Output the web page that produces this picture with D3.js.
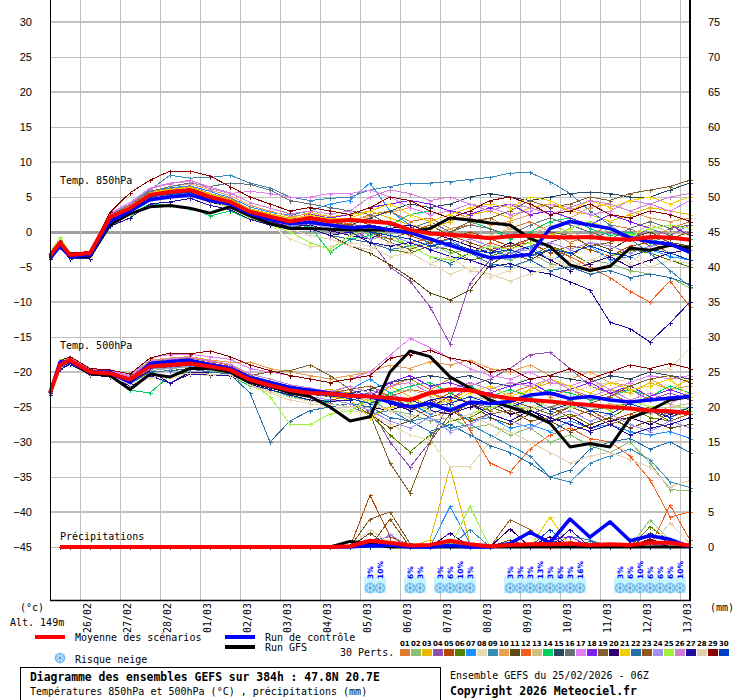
<!DOCTYPE html>
<html lang="fr">
<head>
<meta charset="UTF-8">
<title>Diagramme des ensembles GEFS</title>
<style>
  body { margin: 0; background: #fff; }
  svg text { font-family: "DejaVu Sans Mono", monospace; }
</style>
</head>
<body>
<script src="https://cdn.jsdelivr.net/npm/d3@7"></script>
<script>
// ---- data (hours after 25/02/2026 06Z) ----
const hours = [0,6,12,24,36,48,60,72,84,96,108,120,132,144,156,168,180,192,204,216,228,240,252,264,276,288,300,312,324,336,348,360,372,384];
const precipHours = [6,12,24,36,48,60,72,84,96,108,120,132,144,156,168,180,192,204,216,228,240,252,264,276,288,300,312,324,336,348,360,372,384];
const dayLabels = ["26/02","27/02","28/02","01/03","02/03","03/03","04/03","05/03","06/03","07/03","08/03","09/03","10/03","11/03","12/03","13/03"];
const dayHours = [18,42,66,90,114,138,162,186,210,234,258,282,306,330,354,378];
const tempTicks = [-45,-40,-35,-30,-25,-20,-15,-10,-5,0,5,10,15,20,25,30];
const mmTicks = [0,5,10,15,20,25,30,35,40,45,50,55,60,65,70,75];

const memberColors = ["#e07b30","#88c070","#e8b800","#9050b0","#b04800","#5a8000","#1e90ff","#e8d8b0","#3a8ab8","#e8a050",
  "#604818","#f06020","#d0c080","#00d060","#284860","#687078","#e080f0","#8020f0","#806030","#300070",
  "#f0d000","#2870a8","#905820","#a090f0","#a0f040","#d080d0","#2010a0","#e0d0b0","#880000","#0040c0"];

const t850Mean = [-3.4,-1.5,-3.3,-3.0,2.1,3.4,5.3,5.7,6.0,5.0,4.3,2.9,2.2,1.5,2.0,1.5,1.7,1.5,1.3,0.3,-0.2,-0.4,-0.6,-0.9,-0.6,-0.5,-0.7,-0.8,-0.7,-1.0,-1.1,-0.7,-0.8,-1.1];
const t850Control = [-3.8,-2.0,-3.5,-3.3,1.5,3.0,4.6,5.0,5.3,4.5,4.0,2.6,1.8,1.2,1.4,1.0,0.6,0.8,0.3,-0.1,-1.0,-1.9,-2.8,-3.7,-3.5,-3.2,0.5,1.5,1.0,0.5,-0.8,-1.4,-1.7,-2.9];
const t850Gfs = [-3.5,-2.0,-3.5,-3.5,1.0,2.6,3.6,3.8,3.4,2.7,3.6,2.3,1.2,0.5,0.5,0.4,0.3,0.3,0.3,0.0,0.5,2.0,1.7,1.3,1.0,-0.9,-2.1,-4.7,-5.5,-4.9,-2.3,-2.6,-1.9,-2.3];
const t850Members = [
  [-3.2,-1.3,-3.1,-3.0,2.4,3.8,5.6,6.2,6.5,5.5,4.8,3.2,2.0,1.0,2.5,2.0,1.5,2.5,3.0,1.5,2.0,0.5,1.0,2.0,0.5,1.5,0.0,-1.5,-0.5,1.0,0.5,-1.0,0.5,1.5],
  [-3.6,-1.8,-3.5,-3.2,1.8,3.0,5.0,5.5,5.8,4.6,4.0,2.5,1.8,1.0,1.5,0.5,1.0,-0.5,-1.0,-2.0,-1.5,-3.0,-2.5,-3.5,-4.0,-3.0,-4.5,-5.0,-4.0,-4.5,-5.5,-6.0,-6.5,-8.0],
  [-3.3,-1.4,-3.2,-2.9,2.5,3.6,5.5,6.0,6.4,5.4,4.6,3.3,2.6,2.0,2.8,2.2,2.5,3.0,2.0,1.0,0.5,1.5,2.5,3.0,2.0,3.5,4.0,3.0,2.5,1.5,2.5,3.5,3.0,2.5],
  [-3.4,-1.6,-3.3,-3.1,2.0,3.3,5.2,5.8,6.2,5.2,4.4,3.0,2.4,1.6,1.8,1.0,0.5,-1.0,-5.0,-7.0,-10.7,-16.0,-7.3,-4.0,-3.0,-2.0,-1.5,-0.5,-1.0,0.0,-1.0,0.5,-0.5,1.0],
  [-3.5,-1.7,-3.4,-3.1,2.2,3.5,5.4,5.9,6.1,5.1,4.2,2.8,2.1,1.4,2.2,1.8,2.0,1.0,0.5,-0.5,-1.5,-1.0,0.0,-1.0,-2.0,-1.5,-3.0,-2.0,-2.5,-3.5,-2.0,-1.5,-3.0,-2.5],
  [-3.6,-1.9,-3.6,-3.4,1.5,2.8,4.8,5.2,5.5,4.5,3.8,2.4,1.6,0.8,1.2,0.5,0.0,-1.5,-2.5,-3.0,-2.0,-2.5,-4.0,-3.5,-2.5,-3.5,-2.0,-3.0,-4.5,-3.5,-2.5,-3.0,-4.0,-5.0],
  [-3.2,-1.2,-3.0,-2.8,2.6,3.9,5.8,6.3,6.6,5.8,4.9,3.6,2.8,2.4,3.0,4.0,4.5,7.0,3.0,1.0,-2.0,-1.0,-3.0,-2.5,-3.5,-2.0,-4.0,-3.0,-2.0,-4.0,-3.5,-2.5,-3.5,-4.0],
  [-3.7,-2.0,-3.6,-3.5,1.0,2.5,4.5,5.0,5.2,4.2,3.5,2.0,1.0,-1.0,-2.1,-2.0,-1.5,-2.0,-3.5,-3.0,-4.5,-6.0,-5.0,-6.5,-5.5,-4.0,-3.5,-5.0,-4.0,-3.0,-4.5,-2.0,-3.0,-2.5],
  [-3.3,-1.5,-3.2,-3.0,2.3,4.0,6.0,8.1,7.7,7.8,8.1,7.0,6.3,5.0,4.5,4.8,5.0,6.0,6.5,7.0,7.0,7.2,7.5,7.8,8.4,8.5,7.2,5.5,3.0,1.0,-1.0,-3.0,-5.5,-7.8],
  [-3.2,-1.4,-3.1,-2.9,2.6,3.7,5.7,6.5,6.9,6.0,5.2,3.8,3.0,2.2,2.6,2.0,1.8,2.2,2.8,3.5,2.5,3.0,2.0,1.0,1.5,2.5,3.0,2.0,3.5,4.0,3.0,2.0,1.5,2.0],
  [-3.5,-1.7,-3.5,-3.3,1.6,3.0,4.8,5.4,5.6,4.6,3.9,2.6,1.8,1.0,0.5,-0.5,-2.0,-3.0,-4.7,-6.5,-8.7,-9.7,-8.3,-4.7,-3.0,-4.0,-2.5,-3.5,-1.5,-2.5,-1.0,0.0,-1.5,-2.0],
  [-3.4,-1.6,-3.3,-3.0,2.1,3.4,5.3,5.8,6.0,5.0,4.3,2.9,2.2,1.3,1.6,1.0,1.2,0.5,-0.5,-1.5,-1.0,-2.0,-3.0,-1.5,-2.5,-1.0,-2.0,-3.5,-5.0,-6.5,-8.5,-10.0,-7.0,-10.7],
  [-3.3,-1.5,-3.2,-3.0,2.2,3.5,5.2,5.7,5.9,4.9,4.2,2.7,2.0,1.4,1.8,1.2,1.5,2.0,1.0,0.0,-0.5,0.5,-1.0,-0.5,0.5,-0.5,1.0,0.0,-1.0,0.5,-0.5,1.0,0.0,-0.5],
  [-3.5,-1.8,-3.5,-3.3,1.2,2.6,4.0,3.8,3.5,2.3,3.0,1.8,1.0,0.5,0.8,-2.9,-1.0,-0.5,1.0,2.5,3.0,2.0,1.5,0.5,-1.0,0.0,1.5,2.0,0.5,-0.5,0.0,-1.5,-0.5,-1.0],
  [-3.4,-1.6,-3.4,-3.2,1.9,3.2,5.0,5.5,5.8,4.8,4.0,2.6,1.9,1.2,1.5,1.0,1.0,2.0,3.0,4.0,3.5,4.0,5.0,5.5,5.0,4.5,5.0,5.5,5.7,5.5,5.0,5.0,6.0,7.0],
  [-3.3,-1.5,-3.2,-3.0,2.4,3.9,5.8,6.5,7.0,6.5,7.0,6.8,6.0,4.5,4.0,3.5,3.0,2.5,1.0,0.5,1.5,0.0,1.0,0.5,-0.5,1.0,2.0,1.0,0.0,-1.0,0.5,1.5,0.5,1.0],
  [-3.2,-1.3,-3.1,-2.9,2.7,4.2,6.3,7.0,7.2,6.2,5.5,5.8,5.5,5.0,5.0,5.5,5.5,6.0,5.0,3.5,2.5,3.0,4.0,3.5,2.5,3.0,4.0,3.5,2.5,3.0,4.5,4.0,3.0,4.5],
  [-3.3,-1.5,-3.2,-3.0,2.3,3.6,5.4,5.9,6.2,5.3,4.5,3.1,2.5,1.8,2.5,2.0,2.5,3.5,4.0,4.5,4.0,3.0,2.5,3.5,4.0,2.5,3.0,2.0,1.0,2.5,1.5,0.5,1.0,-0.5],
  [-3.4,-1.6,-3.3,-3.1,2.0,3.3,5.1,5.6,5.9,4.9,4.1,2.8,2.0,1.3,1.6,1.1,0.5,0.0,-1.5,-2.5,-1.5,0.0,1.5,2.0,3.0,4.5,3.5,4.0,5.0,4.5,5.5,6.0,6.5,7.4],
  [-3.6,-1.9,-3.6,-3.4,1.4,2.7,4.6,5.0,5.3,4.3,3.6,2.2,1.5,0.7,1.0,0.2,-0.5,-1.0,0.5,1.0,0.0,-1.0,-2.0,-3.0,-1.5,-2.5,-4.0,-5.5,-4.5,-3.5,-5.0,-4.0,-3.0,-2.5],
  [-3.3,-1.4,-3.2,-3.0,2.3,3.7,5.6,6.1,6.4,5.4,4.6,3.2,2.5,1.9,2.4,1.9,2.0,3.0,4.0,2.5,1.5,2.5,3.5,4.0,3.5,5.0,4.5,3.0,4.5,3.5,4.5,5.0,4.0,5.0],
  [-3.5,-1.7,-3.4,-3.2,1.8,3.1,4.9,5.3,5.6,4.6,3.8,2.4,1.6,0.9,0.5,-0.5,-1.0,-1.5,-2.5,-2.0,-3.5,-4.5,-3.0,-4.5,-5.0,-4.0,-5.5,-5.0,-6.0,-5.5,-6.5,-6.0,-6.5,-7.5],
  [-3.4,-1.6,-3.3,-3.1,2.1,3.4,5.2,5.7,6.0,5.0,4.3,2.9,2.1,1.5,1.9,1.4,1.0,0.0,-1.0,0.0,1.0,-0.5,-1.5,-2.5,-2.0,-1.0,0.0,-0.5,-2.0,-1.5,-0.5,-2.0,-1.0,0.0],
  [-3.5,-1.8,-3.5,-3.3,1.7,3.0,4.9,5.4,5.7,4.7,3.9,2.5,1.7,0.9,1.2,0.5,0.0,-1.0,-0.5,-1.5,-2.5,-2.0,-1.0,-2.0,-3.0,-2.5,-1.5,-2.5,-1.5,-2.0,-3.0,-2.0,-1.5,-2.5],
  [-3.0,-0.7,-3.0,-2.8,2.0,3.2,5.0,5.5,5.8,4.5,3.5,2.0,1.0,0.0,-1.5,-2.5,-0.5,0.5,-0.5,-2.0,-3.5,-4.0,-3.0,-2.0,-2.5,-1.5,-0.5,0.5,1.5,0.5,-0.5,0.5,1.0,0.5],
  [-3.2,-1.3,-3.1,-2.9,2.6,4.0,6.2,6.9,7.4,6.4,5.6,4.2,3.4,2.6,3.0,2.6,3.0,5.0,6.0,5.5,4.5,5.0,4.0,3.0,4.0,3.5,2.5,3.5,4.5,4.0,3.0,4.0,5.0,5.5],
  [-3.8,-2.2,-3.8,-3.8,0.8,2.0,4.0,4.3,4.8,3.8,3.2,1.8,1.0,0.4,0.5,-0.5,0.0,-1.5,-2.0,-1.5,-2.5,-3.5,-4.0,-5.0,-4.5,-5.5,-6.0,-7.1,-8.3,-12.9,-13.8,-15.7,-13.0,-10.0],
  [-3.6,-1.9,-3.5,-3.4,1.3,2.7,4.6,5.1,5.4,4.4,3.7,2.3,1.3,0.4,-0.5,-1.0,-2.0,-2.5,-1.5,-3.0,-4.5,-3.5,-5.5,-6.0,-7.0,-6.0,-5.0,-4.0,-5.5,-4.5,-3.5,-5.0,-4.0,-4.5],
  [-3.2,-1.3,-3.0,-2.8,2.8,5.6,7.4,8.7,8.7,8.0,6.5,5.0,4.0,3.0,3.5,3.0,2.5,3.5,5.0,4.5,3.0,2.0,3.0,4.5,5.0,4.0,2.5,3.0,4.0,2.5,2.0,3.0,2.5,1.5],
  [-3.5,-1.7,-3.4,-3.2,1.9,3.2,5.0,5.4,5.7,4.7,4.0,2.6,1.9,1.2,1.5,1.0,0.5,0.0,-0.5,-1.0,-2.0,-1.5,-2.5,-3.0,-2.5,-3.5,-2.5,-3.0,-2.0,-3.0,-3.5,-2.5,-3.0,-4.0]
];

const t500Mean = [-23,-19,-18.3,-20,-20.2,-21.1,-19.2,-19,-18.8,-19.2,-19.7,-21.1,-21.9,-22.6,-23,-23.1,-23.4,-23.5,-23.7,-24.0,-23.0,-22.5,-22.6,-23.3,-23.8,-24,-24.2,-24.5,-24.7,-25,-25.2,-25.5,-25.6,-25.9];
const t500Control = [-23,-18.6,-18.5,-20,-20,-21.5,-18.8,-18.5,-18.3,-19,-19.5,-20.8,-21.5,-22.2,-22.6,-23,-23.3,-23.5,-24.3,-25,-24.5,-25.5,-24.3,-24.5,-24.2,-23.3,-23,-23.8,-23.5,-24,-24.3,-24,-23.7,-23.5];
const t500Gfs = [-23,-19,-18.5,-20.2,-20.5,-22.5,-20.3,-20.7,-19.5,-19.5,-20,-21.5,-22,-23,-23.5,-25,-27,-26.4,-20,-17,-17.8,-20.7,-22.3,-24,-25,-26,-27.3,-30.7,-30.2,-30.7,-26.6,-25.5,-24,-23.5];
const t500Members = [
  [-22.8,-18.8,-18.0,-19.8,-20.0,-20.8,-18.5,-18.2,-18.0,-18.5,-19.0,-20.5,-21.5,-22.0,-22.5,-23.0,-22.0,-23.0,-22.0,-21.0,-22.5,-21.0,-22.0,-24.0,-23.0,-22.0,-23.5,-22.5,-24.0,-23.0,-24.5,-23.5,-22.0,-23.0],
  [-23.2,-19.2,-18.6,-20.2,-20.4,-21.5,-19.8,-19.5,-19.3,-19.8,-20.2,-21.8,-22.5,-23.5,-24.0,-24.5,-25.0,-24.0,-25.5,-26.0,-27.0,-26.5,-28.0,-27.5,-29.0,-28.0,-30.0,-29.0,-30.5,-31.5,-30.0,-33.0,-36.8,-37.0],
  [-22.9,-18.9,-18.2,-19.9,-20.1,-21.0,-19.0,-18.7,-18.5,-19.0,-19.5,-20.8,-21.5,-22.3,-22.8,-22.5,-23.0,-24.5,-22.0,-23.5,-25.0,-24.0,-22.5,-23.0,-24.5,-22.5,-21.5,-22.0,-21.0,-22.5,-23.0,-21.5,-22.5,-21.0],
  [-23.0,-19.0,-18.4,-20.1,-20.3,-21.2,-19.3,-19.0,-18.9,-19.3,-19.8,-21.2,-22.0,-22.8,-23.5,-24.0,-24.5,-25.0,-30.0,-33.6,-30.0,-24.0,-22.0,-21.0,-19.5,-17.5,-17.2,-19.5,-22.0,-23.0,-22.5,-24.0,-23.0,-24.0],
  [-23.1,-19.1,-18.5,-20.0,-20.2,-21.3,-19.5,-19.2,-19.0,-19.5,-20.0,-21.3,-22.0,-23.0,-23.5,-24.0,-23.5,-23.0,-24.0,-25.5,-24.5,-23.0,-24.5,-25.5,-24.0,-26.0,-25.0,-26.5,-25.5,-27.0,-26.0,-25.0,-26.5,-25.5],
  [-23.2,-19.3,-18.6,-20.3,-20.5,-21.6,-20.0,-19.8,-19.5,-20.0,-20.3,-21.8,-22.5,-23.3,-24.0,-24.5,-25.0,-26.0,-29.0,-31.4,-29.0,-27.0,-26.5,-25.0,-26.0,-25.5,-27.0,-26.0,-27.5,-26.5,-25.0,-26.5,-27.0,-28.0],
  [-22.8,-18.7,-18.0,-19.7,-19.9,-20.7,-18.6,-18.4,-18.2,-18.7,-19.2,-20.5,-21.3,-22.0,-22.5,-23.0,-22.5,-21.0,-23.0,-24.5,-26.0,-25.0,-27.0,-26.5,-28.0,-27.5,-28.5,-27.0,-28.0,-27.5,-28.5,-29.0,-28.5,-29.5],
  [-23.1,-19.2,-18.5,-20.2,-20.4,-21.6,-20.3,-20.9,-20.3,-20.5,-20.5,-22.0,-23.0,-24.0,-24.5,-25.0,-25.5,-26.0,-27.5,-29.0,-29.7,-33.5,-33.5,-30.0,-27.0,-25.0,-24.0,-23.0,-22.0,-21.5,-21.0,-20.0,-19.5,-16.6],
  [-22.9,-18.8,-18.2,-19.9,-20.1,-20.9,-18.8,-18.5,-18.4,-18.9,-19.4,-20.8,-21.8,-22.5,-23.5,-24.5,-25.0,-26.0,-25.5,-27.0,-26.5,-28.0,-27.5,-29.0,-30.5,-32.0,-35.0,-35.7,-33.0,-32.0,-31.0,-32.5,-35.7,-36.5],
  [-22.7,-18.5,-17.9,-19.6,-19.8,-20.6,-18.3,-18.0,-17.8,-18.3,-18.6,-18.6,-19.5,-20.0,-20.5,-21.0,-20.5,-20.0,-19.0,-19.5,-18.5,-19.0,-18.3,-19.5,-20.0,-19.0,-20.5,-21.0,-20.0,-21.5,-22.0,-21.0,-22.5,-22.0],
  [-23.1,-19.1,-18.4,-20.1,-20.3,-21.4,-19.6,-19.3,-19.1,-19.5,-20.0,-21.5,-22.3,-23.0,-23.5,-24.0,-24.5,-26.0,-28.0,-27.0,-25.0,-23.5,-24.5,-26.5,-27.5,-26.0,-27.0,-28.5,-27.5,-26.5,-28.0,-27.0,-28.0,-27.5],
  [-23.0,-19.0,-18.3,-20.0,-20.2,-21.1,-19.2,-19.0,-18.8,-19.2,-19.7,-21.0,-21.8,-22.5,-23.0,-23.5,-23.0,-22.5,-23.5,-22.5,-23.0,-24.0,-28.3,-33.0,-34.3,-31.0,-29.0,-28.0,-29.5,-30.0,-32.0,-35.4,-40.7,-40.0],
  [-22.9,-18.9,-18.2,-19.9,-20.1,-21.0,-19.0,-18.8,-18.6,-19.0,-19.5,-20.9,-21.6,-22.3,-22.8,-23.0,-23.5,-24.0,-23.0,-22.5,-23.5,-24.5,-23.5,-24.0,-25.0,-24.0,-25.0,-24.5,-25.5,-24.5,-25.0,-26.0,-25.0,-24.5],
  [-23.3,-19.5,-18.8,-20.4,-20.6,-22.6,-23.0,-20.5,-20.0,-20.3,-20.5,-22.0,-22.5,-23.5,-24.0,-24.0,-24.5,-25.5,-23.0,-22.0,-21.5,-23.0,-22.0,-23.5,-22.5,-23.5,-22.5,-23.0,-24.0,-23.5,-22.5,-23.5,-22.0,-23.0],
  [-23.0,-19.1,-18.4,-20.1,-20.3,-21.3,-19.4,-19.1,-18.9,-19.4,-19.9,-21.3,-22.0,-22.8,-23.2,-23.5,-23.0,-22.5,-21.5,-21.0,-20.5,-21.0,-20.5,-21.5,-22.0,-21.0,-20.5,-21.0,-21.5,-20.5,-21.0,-20.0,-20.5,-21.0],
  [-22.8,-18.7,-18.1,-19.8,-20.0,-20.9,-18.8,-18.5,-18.3,-18.8,-19.2,-20.5,-21.4,-22.2,-22.7,-23.0,-23.5,-23.0,-24.0,-25.0,-24.0,-25.5,-24.5,-25.0,-24.5,-26.0,-25.0,-24.0,-25.5,-25.0,-24.5,-25.5,-26.0,-25.0],
  [-22.7,-18.5,-17.9,-19.6,-19.8,-20.5,-18.0,-17.5,-17.5,-17.8,-18.2,-19.5,-20.0,-20.5,-21.0,-21.5,-21.0,-20.0,-17.6,-15.2,-16.5,-18.0,-19.5,-20.5,-21.0,-20.0,-21.5,-22.0,-21.0,-22.5,-21.5,-20.5,-21.0,-20.5],
  [-22.9,-18.8,-18.1,-19.8,-20.0,-20.8,-18.7,-18.4,-18.2,-18.7,-19.2,-20.6,-21.4,-22.2,-22.5,-23.0,-22.5,-23.5,-21.5,-20.5,-22.0,-21.5,-22.5,-23.0,-22.0,-21.5,-23.0,-22.5,-21.5,-23.0,-22.0,-23.5,-22.5,-23.5],
  [-23.0,-19.0,-18.3,-20.0,-20.2,-21.2,-19.3,-19.1,-18.9,-19.3,-19.8,-20.5,-20.0,-19.8,-19.0,-20.5,-22.5,-26.0,-33.0,-37.3,-30.0,-26.0,-24.5,-25.5,-24.0,-25.0,-26.0,-25.0,-24.5,-23.5,-22.0,-21.0,-20.5,-21.5],
  [-23.1,-19.2,-18.5,-20.2,-20.4,-21.5,-19.8,-21.6,-20.0,-20.0,-20.3,-21.6,-22.3,-23.0,-23.5,-24.0,-24.5,-25.0,-25.5,-24.5,-25.5,-26.0,-25.0,-24.0,-26.0,-25.5,-27.0,-26.5,-28.0,-27.0,-26.5,-27.5,-26.0,-25.5],
  [-22.9,-18.9,-18.2,-19.9,-20.1,-21.0,-19.1,-18.8,-18.6,-19.1,-19.6,-21.0,-21.8,-22.6,-23.0,-23.5,-24.0,-26.5,-25.0,-24.5,-23.0,-24.5,-23.0,-22.0,-23.5,-22.5,-21.0,-22.0,-23.0,-21.5,-22.5,-22.0,-21.0,-23.5],
  [-23.2,-19.3,-18.7,-20.3,-20.5,-21.7,-20.0,-19.8,-19.6,-20.0,-20.3,-23.0,-30.0,-27.0,-25.5,-25.0,-24.5,-25.0,-26.5,-27.0,-28.5,-27.5,-29.0,-30.5,-31.5,-33.0,-35.0,-34.0,-31.0,-30.0,-29.5,-31.0,-30.0,-31.5],
  [-23.0,-19.0,-18.4,-20.0,-20.2,-21.1,-19.2,-18.9,-18.7,-19.2,-19.7,-21.0,-21.7,-22.5,-23.0,-23.0,-22.5,-22.0,-23.5,-25.0,-26.5,-25.5,-27.0,-26.0,-25.5,-27.0,-26.5,-25.0,-26.0,-27.5,-26.5,-25.5,-27.0,-26.0],
  [-23.1,-19.1,-18.5,-20.1,-20.3,-21.3,-19.6,-19.4,-19.2,-19.6,-20.0,-21.4,-22.2,-23.0,-23.5,-24.0,-24.5,-25.5,-27.0,-28.0,-26.5,-28.5,-27.5,-26.0,-27.0,-28.0,-26.5,-25.5,-27.0,-26.0,-27.5,-28.5,-27.0,-28.0],
  [-22.8,-18.2,-18.1,-19.8,-20.0,-21.0,-19.0,-18.7,-18.6,-19.0,-19.5,-21.5,-23.5,-27.5,-27.5,-26.0,-25.5,-24.0,-23.5,-24.5,-25.5,-27.0,-26.0,-25.0,-24.5,-25.5,-24.0,-25.0,-24.5,-25.5,-24.0,-25.0,-24.5,-25.5],
  [-22.8,-18.6,-18.0,-19.7,-19.9,-20.7,-18.4,-18.1,-17.9,-18.4,-18.9,-20.3,-21.0,-21.8,-22.3,-22.8,-22.0,-23.0,-22.0,-21.5,-23.0,-22.5,-21.5,-22.5,-21.5,-22.0,-21.0,-22.5,-23.5,-22.5,-24.0,-23.0,-24.5,-23.0],
  [-23.3,-19.6,-18.9,-20.4,-20.7,-22.0,-20.5,-21.6,-20.3,-20.4,-20.5,-21.8,-22.5,-23.3,-24.0,-24.2,-24.0,-23.5,-24.5,-25.5,-24.0,-23.5,-24.5,-26.0,-27.0,-25.5,-26.5,-27.5,-28.5,-27.5,-29.0,-28.0,-27.5,-26.5],
  [-23.1,-19.3,-18.6,-20.3,-20.5,-21.8,-20.8,-20.5,-20.2,-20.3,-20.4,-21.9,-22.8,-23.6,-24.2,-24.6,-25.0,-24.5,-25.5,-26.5,-25.5,-27.0,-26.0,-27.5,-28.5,-30.0,-31.5,-33.0,-32.0,-31.5,-32.5,-33.6,-36.4,-35.5],
  [-22.7,-18.4,-17.8,-19.5,-19.7,-20.3,-18.0,-17.3,-17.4,-17.0,-17.8,-19.0,-19.8,-20.5,-21.0,-21.5,-21.0,-20.5,-18.0,-17.5,-16.9,-18.0,-18.5,-20.0,-19.5,-21.0,-20.5,-19.5,-21.0,-20.0,-19.0,-19.5,-18.8,-19.5],
  [-23.0,-19.1,-18.4,-20.0,-20.2,-21.2,-19.3,-19.0,-18.8,-19.3,-19.8,-21.2,-22.0,-22.7,-23.1,-23.4,-23.8,-24.5,-23.5,-24.0,-25.0,-24.5,-23.5,-24.5,-25.0,-24.0,-25.5,-24.5,-25.5,-26.0,-24.5,-25.5,-26.5,-25.0]
];

const precipMean = [0,0,0,0,0,0,0,0,0,0,0,0,0,0,0,0.1,0.9,0.6,0.2,0.3,0.9,0.4,0.1,0.3,0.4,0.4,0.5,0.3,0.4,0.3,0.6,0.6,0.2];
const precipControl = [0,0,0,0,0,0,0,0,0,0,0,0,0,0,0,0,0.2,0.3,0,0,0.2,0,0,0.5,2.1,0.6,4.0,1.4,3.6,0.9,1.6,1.1,0];
const precipGfs = [0,0,0,0,0,0,0,0,0,0,0,0,0,0,0,0.8,0.5,0,0,0,0,0,0,0,0,0,0,0,0,0,0,0,0];
const precipMembers = [
  [0,0,0,0,0,0,0,0,0,0,0,0,0,0,0,0,1.0,0.5,0,0,0,0,0,0,0,0,0.8,0,0,0,1.0,0,0],
  [0,0,0,0,0,0,0,0,0,0,0,0,0,0,0,0,0,0,0,0,0,0,0,0,0.5,0,0,0,0,0,3.9,1.0,0],
  [0,0,0,0,0,0,0,0,0,0,0,0,0,0,0,0,0,0,0,1.0,11.4,0.5,0,0,0,0,0,0,0,0,0,0,0],
  [0,0,0,0,0,0,0,0,0,0,0,0,0,0,0,0,0.8,1.5,0,0,0,0,0,0,0,0,0,0,0,0,0,0,0],
  [0,0,0,0,0,0,0,0,0,0,0,0,0,0,0,0,7.4,1.5,0.3,0,0,0,0,0,0,0,0,0,0,0,0,0,0],
  [0,0,0,0,0,0,0,0,0,0,0,0,0,0,0,0,0,0,0,0,0,0,0,0,0,0,0,0,0,0,2.9,0.8,0],
  [0,0,0,0,0,0,0,0,0,0,0,0,0,0,0,0,0,0,0,0,5.8,0.5,0,0,0,1.0,0,0,0,0,0,0,0],
  [0,0,0,0,0,0,0,0,0,0,0,0,0,0,0,0,2.5,0.5,0,0,0,0,0,0,0,0,0,0,0,0,0,0,0],
  [0,0,0,0,0,0,0,0,0,0,0,0,0,0,0,0,0,0,0,0,0,2.5,0,0,0,0,1.5,1.0,0,0,0,0.8,0],
  [0,0,0,0,0,0,0,0,0,0,0,0,0,0,0,0,0,0.8,0,0,0,0,0,0,0,0,0.5,0,0,0,0,0,0],
  [0,0,0,0,0,0,0,0,0,0,0,0,0,0,0,0,2.0,0,0,0,0,0,0,1.0,0,0,0,0,0,0,0,0,0],
  [0,0,0,0,0,0,0,0,0,0,0,0,0,0,0,0,0,0,0,0,0,0,0,0,0,0,0,0,0,0.5,0,6.0,1.0],
  [0,0,0,0,0,0,0,0,0,0,0,0,0,0,0,0,0,0,0.3,0,0,0,0,0,0,0,0,0,0,0,0,0,0],
  [0,0,0,0,0,0,0,0,0,0,0,0,0,0,0,0,0,0,0,0,0.5,0,0,0,0,0,0,0,0.5,0,0,0,0],
  [0,0,0,0,0,0,0,0,0,0,0,0,0,0,0,0,0,0,0,0,0,0,0,0,0,0,0,0,0,0,2.0,0.6,0],
  [0,0,0,0,0,0,0,0,0,0,0,0,0,0,0,0,1.0,0,0,0,0,0,0,0,0,0,0,0,0,0,0,0,0],
  [0,0,0,0,0,0,0,0,0,0,0,0,0,0,0,0,0,0.6,0,0,0,0.4,0,0,0,0,0,0,0,0,0,0,0],
  [0,0,0,0,0,0,0,0,0,0,0,0,0,0,0,0,0,0,0,0,0,0,0,0,0,1.0,1.5,0,0,0,0,0,0],
  [0,0,0,0,0,0,0,0,0,0,0,0,0,0,0,0,4.0,5.0,0.5,0,0,0,0,0,0,0,0,0,0,0,0,0,0],
  [0,0,0,0,0,0,0,0,0,0,0,0,0,0,0,0,0,0,0,0,2.0,0,0,2.6,0,1.5,0,0,0,0,0,0,0],
  [0,0,0,0,0,0,0,0,0,0,0,0,0,0,0,0,0,0,0,0,0.8,0,0,0,0,4.3,0,0,0,0,0,0,0],
  [0,0,0,0,0,0,0,0,0,0,0,0,0,0,0,0,0,0,0,0,0,0,0,0,0,0,0,0.8,0,0,0.5,0,0],
  [0,0,0,0,0,0,0,0,0,0,0,0,0,0,0,0,0,4.0,0,0,0,0,0,3.9,2.5,0,0,0,0,0,0,0,0],
  [0,0,0,0,0,0,0,0,0,0,0,0,0,0,0,0,0,1.8,0,0,0,0,0,0,0,0,0,0,0,0,0,0.7,0],
  [0,0,0,0,0,0,0,0,0,0,0,0,0,0,0,0,0,0,0,0,0,5.8,0,0,0.5,0,0,0,0,0,0,0,0],
  [0,0,0,0,0,0,0,0,0,0,0,0,0,0,0,0,0.9,0,0,0,0,0,0,0,0,0,0,0,0,0,0,0.5,0],
  [0,0,0,0,0,0,0,0,0,0,0,0,0,0,0,0,0,0,0,0,0,0,0,0,0,0,2.5,0,0,0,1.0,0,0],
  [0,0,0,0,0,0,0,0,0,0,0,0,0,0,0,0,0,0,0,0,0,0,0,0,0,0,0,0,0,0,0,3.5,0.5],
  [0,0,0,0,0,0,0,0,0,0,0,0,0,0,0,0,0,0,0,0,0,0,0,0,0,0,0,0,0,0,1.2,0,0],
  [0,0,0,0,0,0,0,0,0,0,0,0,0,0,0,0,0,0,0,0,0,0,0,0,0,2.5,0,0,0,0.6,0,0,0]
];

const snowHours = [192,198,216,222,234,240,246,252,276,282,288,294,300,306,312,318,342,348,354,360,366,372,378];
const snowPct = [3,10,6,3,3,6,10,3,3,3,3,13,3,6,3,16,3,6,10,6,6,6,10];

// ---- chart ----
const svg = d3.select("body").append("svg").attr("width", 740).attr("height", 700);

const x = d3.scaleLinear().domain([0, 384]).range([50, 690]);
const y = d3.scaleLinear().domain([-45, 30]).range([547, 22]);
const yMm = d3.scaleLinear().domain([0, 75]).range([547, 22]);

// grid
const grid = svg.append("g").attr("shape-rendering", "crispEdges");
grid.selectAll(".hgrid").data(tempTicks).join("line").attr("class", "hgrid")
  .attr("x1", 50).attr("x2", 690)
  .attr("y1", d => y(d)).attr("y2", d => y(d))
  .attr("stroke", d => d === 0 ? "#a0a0a0" : "#c0c0c0")
  .attr("stroke-width", d => d === 0 ? 3 : (d % 10 === 0 ? 2 : 1));
grid.selectAll(".vgrid").data(dayHours).join("line").attr("class", "vgrid")
  .attr("x1", d => Math.round(x(d)) + 0.5).attr("x2", d => Math.round(x(d)) + 0.5)
  .attr("y1", 0).attr("y2", 600)
  .attr("stroke", "#c0c0c0").attr("stroke-width", 1);

// axes
const axL = svg.append("g").attr("transform", "translate(50,0)")
  .call(d3.axisLeft(y).tickValues(tempTicks).tickSize(0).tickPadding(18));
const axR = svg.append("g").attr("transform", "translate(690,0)")
  .call(d3.axisRight(yMm).tickValues(mmTicks).tickSize(0).tickPadding(18));
[axL, axR].forEach(a => {
  a.select(".domain").remove();
  a.selectAll("text").style("font-family", "'Liberation Sans', Arial, sans-serif")
    .attr("font-size", 11).attr("fill", "#000");
});

const axB = svg.append("g").attr("transform", "translate(0,600)")
  .call(d3.axisBottom(x).tickValues(dayHours).tickFormat((d, i) => dayLabels[i]).tickSize(0));
axB.select(".domain").remove();
axB.selectAll("text")
  .attr("transform", "rotate(-90)")
  .attr("text-anchor", "end")
  .attr("x", -3).attr("y", 10).attr("dy", 0)
  .attr("font-size", 10).attr("fill", "#000");

// series
function drawSeries(times, values, scale, color, width, marks) {
  const line = d3.line().x((d, i) => x(times[i])).y(d => scale(d));
  const g = svg.append("g");
  g.append("path").attr("d", line(values))
    .attr("fill", "none").attr("stroke", color).attr("stroke-width", width)
    .attr("stroke-linejoin", "round")
    .attr("shape-rendering", marks ? "crispEdges" : "auto");
  if (marks) {
    g.selectAll("path.mk").data(values).join("path").attr("class", "mk")
      .attr("d", "M-2,0H2M0,-2V2")
      .attr("transform", (d, i) => `translate(${Math.round(x(times[i])) + 0.5},${Math.round(scale(d)) + 0.5})`)
      .attr("stroke", color).attr("stroke-width", 1)
      .attr("shape-rendering", "crispEdges");
  }
}

memberColors.forEach((c, i) => {
  drawSeries(hours, t850Members[i], y, c, 1, true);
  drawSeries(hours, t500Members[i], y, c, 1, true);
  drawSeries(precipHours, precipMembers[i], yMm, c, 1, true);
});
drawSeries(hours, t850Gfs, y, "#000", 3, false);
drawSeries(hours, t500Gfs, y, "#000", 3, false);
drawSeries(precipHours, precipGfs, yMm, "#000", 3, false);
drawSeries(hours, t850Control, y, "#0000ff", 3.5, false);
drawSeries(hours, t500Control, y, "#0000ff", 3.5, false);
drawSeries(precipHours, precipControl, yMm, "#0000ff", 3.5, false);
drawSeries(hours, t850Mean, y, "#ff0000", 4, false);
drawSeries(hours, t500Mean, y, "#ff0000", 4, false);
drawSeries(precipHours, precipMean, yMm, "#ff0000", 4, false);

// frame
svg.append("line").attr("x1", 50.5).attr("x2", 50.5).attr("y1", 0).attr("y2", 601).attr("stroke", "#000");
svg.append("line").attr("x1", 690).attr("x2", 690).attr("y1", 0).attr("y2", 601).attr("stroke", "#000").attr("stroke-width", 2);
svg.append("line").attr("x1", 50).attr("x2", 691).attr("y1", 600.5).attr("y2", 600.5).attr("stroke", "#000").attr("stroke-width", 1.5);

// snow risk
function flake(g, cx, cy) {
  g.append("circle").attr("cx", cx).attr("cy", cy).attr("r", 5.4).attr("fill", "#7cc2ee");
  [0, 60, 120].forEach(a => {
    g.append("line").attr("x1", cx - 4).attr("x2", cx + 4).attr("y1", cy).attr("y2", cy)
      .attr("transform", `rotate(${a},${cx},${cy})`)
      .attr("stroke", "#eaf8ff").attr("stroke-width", 1);
  });
  g.append("circle").attr("cx", cx).attr("cy", cy).attr("r", 1.2).attr("fill", "#3a90d0");
}
const snowG = svg.append("g");
const groups = [];
snowHours.forEach((h, i) => {
  if (i === 0 || h - snowHours[i - 1] > 6) groups.push([h, h]);
  else groups[groups.length - 1][1] = h;
});
snowG.selectAll("rect").data(groups).join("rect")
  .attr("x", d => x(d[0]) - 6).attr("width", d => x(d[1]) - x(d[0]) + 12)
  .attr("y", 577).attr("height", 16).attr("fill", "#c8f4ff");
snowHours.forEach((h, i) => {
  flake(snowG, x(h), 588);
  snowG.append("text").attr("transform", `translate(${x(h) + 3},579) rotate(-90)`)
    .style("font-family", "'DejaVu Sans', sans-serif").attr("font-weight", "bold")
    .attr("font-size", 7.5).attr("fill", "#0000ff").text(snowPct[i] + "%");
});

// labels
function label(t, px, py, opts = {}) {
  return svg.append("text").attr("x", px).attr("y", py)
    .attr("font-size", opts.size || 10).attr("font-weight", opts.bold ? "bold" : "normal")
    .attr("fill", "#000").text(t);
}
label("Temp. 850hPa", 60, 184);
label("Temp. 500hPa", 60, 349);
label("Précipitations", 60, 540);
label("(°c)", 20, 611);
label("Alt. 149m", 10, 626);
label("(mm)", 710, 611);

// legend
svg.append("line").attr("x1", 35).attr("x2", 65).attr("y1", 637).attr("y2", 637).attr("stroke", "#ff0000").attr("stroke-width", 4);
label("Moyenne des scénarios", 75, 641);
svg.append("line").attr("x1", 225).attr("x2", 255).attr("y1", 637).attr("y2", 637).attr("stroke", "#0000ff").attr("stroke-width", 4);
label("Run de contrôle", 265, 641);
svg.append("line").attr("x1", 225).attr("x2", 255).attr("y1", 647).attr("y2", 647).attr("stroke", "#000").attr("stroke-width", 4);
label("Run GFS", 265, 651);
label("30 Perts.", 340, 656);
flake(svg, 60, 658);
label("Risque neige", 75, 663);

const members = svg.append("g");
memberColors.forEach((c, i) => {
  members.append("text").attr("x", 400 + i * 11).attr("y", 646)
    .style("font-family", "'DejaVu Sans', sans-serif").attr("font-weight", "bold")
    .attr("font-size", 7).attr("fill", "#000").text(d3.format("02")(i + 1));
  members.append("rect").attr("x", 400 + i * 11).attr("y", 649).attr("width", 10).attr("height", 7).attr("fill", c);
});

// footer
svg.append("rect").attr("x", 20.5).attr("y", 667.5).attr("width", 420).attr("height", 40)
  .attr("fill", "none").attr("stroke", "#000");
label("Diagramme des ensembles GEFS sur 384h : 47.8N 20.7E", 30, 681, { bold: true, size: 11.4 });
label("Températures 850hPa et 500hPa (°C) , précipitations (mm)", 30, 695);
label("Ensemble GEFS du 25/02/2026 - 06Z", 450, 679);
label("Copyright 2026 Meteociel.fr", 450, 695, { bold: true, size: 11.5 });
</script>
</body>
</html>
